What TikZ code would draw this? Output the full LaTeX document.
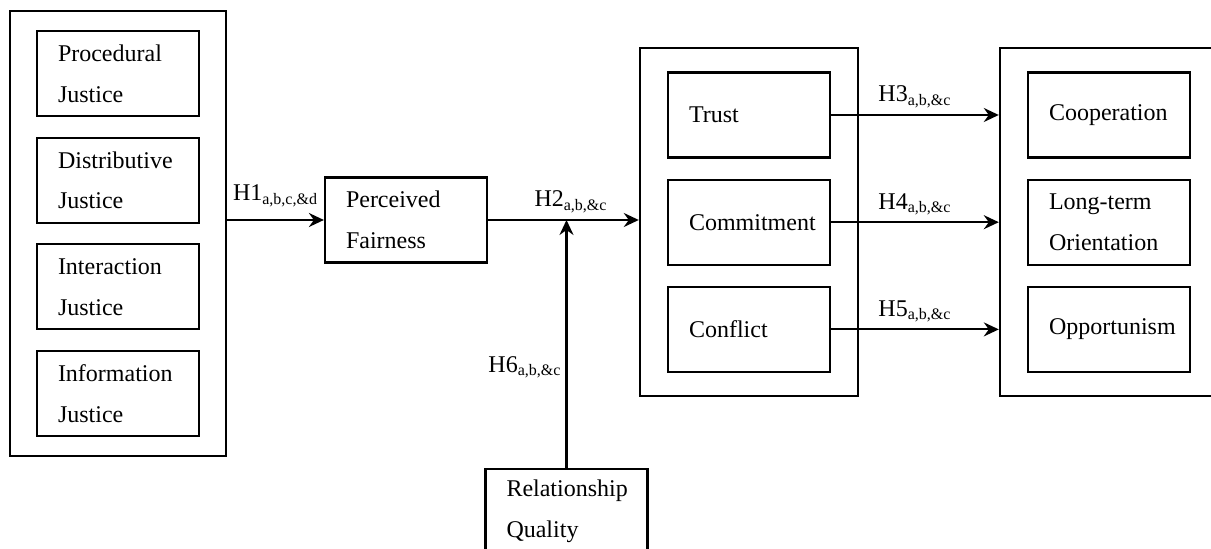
\documentclass[tikz,border=0pt]{standalone}
\usepackage{fontspec}
\setmainfont{Liberation Serif}
\usetikzlibrary{arrows.meta,positioning,fit}
\hyphenpenalty=10000
\hbadness=10000
\hfuzz=30pt

\begin{document}
\begin{tikzpicture}[
    x=0.5pt, y=-0.5pt,
    node distance=9.75pt,
    every node/.style={font=\fontsize{12}{20.3}\selectfont},
    construct/.style={rectangle, draw, line width=1.1pt, minimum width=81pt, minimum height=42.5pt, text width=60pt, inner xsep=10.5pt, align=left},
    group/.style={rectangle, draw, line width=1.1pt, inner xsep=13pt, inner ysep=9.5pt},
    hyp/.style={anchor=base, yshift=6.5pt},
    arr/.style={-{Stealth[length=7.5pt, width=7pt, inset=2.5pt]}, line width=1.1pt}
]
    \useasboundingbox (0,0) rectangle (1211,549);

    \node[construct] (proc) at (118,73.5) {Procedural\\Justice};
    \node[construct, below=of proc] (dist) {Distributive\\Justice};
    \node[construct, below=of dist] (inter) {Interaction\\Justice};
    \node[construct, below=of inter] (info) {Information\\Justice};
    \node[group, fit=(proc)(info)] (justice) {};

    \node[construct] (fair) at (406,220) {Perceived\\Fairness};
    \node[construct] (quality) at (566.5,511.5) {Relationship\\Quality};

    \node[construct] (trust) at (749,115) {Trust};
    \node[construct, below=10pt of trust] (commit) {Commitment};
    \node[construct, below=10pt of commit] (conflict) {Conflict};
    \node[group, fit=(trust)(conflict), inner xsep=13.5pt, inner ysep=11.5pt] (relation) {};

    \node[construct] (coop) at (1109,115) {Cooperation};
    \node[construct, below=10pt of coop] (orient) {Long-term\\Orientation};
    \node[construct, below=10pt of orient] (oppor) {Opportunism};
    \node[group, fit=(coop)(oppor), inner xsep=13.5pt, inner ysep=11.5pt] (outcome) {};

    \draw[arr] (justice.east |- fair.west) -- node[hyp, yshift=3pt] {H1\textsubscript{a,b,c,\&d}} (fair.west);
    \draw[arr] (fair.east) -- node[hyp, pos=0.55] {H2\textsubscript{a,b,\&c}} (fair.east -| relation.west);
    \draw[arr] (quality.north) -- node[anchor=base east, inner sep=2pt, pos=0.386] {H6\textsubscript{a,b,\&c}} (quality.north |- fair.east);
    \draw[arr] (trust.east) -- node[hyp] {H3\textsubscript{a,b,\&c}} (trust.east -| outcome.west);
    \draw[arr] (commit.east) -- node[hyp] {H4\textsubscript{a,b,\&c}} (commit.east -| outcome.west);
    \draw[arr] (conflict.east) -- node[hyp] {H5\textsubscript{a,b,\&c}} (conflict.east -| outcome.west);
\end{tikzpicture}
\end{document}
